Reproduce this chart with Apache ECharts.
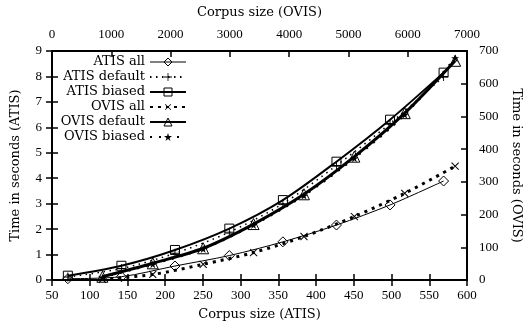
<!DOCTYPE html>
<html>
<head>
<meta charset="utf-8">
<script src="https://cdn.jsdelivr.net/npm/echarts@6/dist/echarts.min.js"></script>
<style>
  html, body { margin: 0; padding: 0; background: #fff; }
  #chart { width: 523px; height: 324px; }
</style>
</head>
<body>
<div id="chart"></div>
<script>
// ATIS corpus sizes (bottom axis) and times in seconds (left axis)
var atisSizes = [71, 142, 213, 285, 356, 427, 498, 569];
var atisAll = [0.05, 0.13, 0.55, 0.96, 1.5, 2.16, 2.95, 3.89];
var atisDefault = [0.12, 0.45, 1.05, 1.88, 3.0, 4.5, 6.15, 8.0];
var atisBiased = [0.17, 0.56, 1.18, 2.02, 3.14, 4.65, 6.3, 8.15];

// OVIS corpus sizes (top axis) and times in seconds (right axis)
var ovisSizes = [850, 1700, 2550, 3400, 4250, 5100, 5950, 6800];
var ovisAll = [2, 17, 48, 84, 133, 194, 265, 348];
var ovisDefault = [10, 51, 97, 171, 262, 377, 510, 670];
var ovisBiased = [8, 48, 95, 168, 258, 372, 505, 678];

var serif = "DejaVu Serif";
var tickFont = "Liberation Serif";

var plusPath = "path://M4.5,0h1v4.5h4.5v1h-4.5v4.5h-1v-4.5h-4.5v-1h4.5z";
var starPath = "path://M5,0L6.2,3.6L10,3.6L6.9,5.8L8.1,9.5L5,7.2L1.9,9.5L3.1,5.8L0,3.6L3.8,3.6Z";

function pairs(xs, ys) {
	return xs.map(function (x, i) { return [x, ys[i]]; });
}

var hollow = { color: "rgba(0,0,0,0)", borderColor: "#000", borderWidth: 1 };
var solid = { color: "#000", borderColor: "#000", borderWidth: 0 };

function labels(margin) {
	return { color: "#000", fontFamily: tickFont, fontSize: 13, margin: margin, formatter: function (v) { return String(v); } };
}

function axisBase(extra) {
	var base = {
		type: "value",
		splitLine: { show: false },
		axisLine: { show: true, onZero: false, lineStyle: { color: "#000", width: 2 } },
		axisTick: { show: true, inside: true, length: 6, lineStyle: { color: "#000", width: 1.5 } },
		axisLabel: labels(11),
		nameLocation: "middle",
		nameTextStyle: { color: "#000", fontFamily: serif, fontSize: 13 },
	};
	return Object.assign(base, extra);
}

var chart = echarts.init(document.getElementById("chart"), null, { renderer: "canvas" });

var options = {
	animation: false,
	backgroundColor: "#fff",
	grid: { left: 52, right: 56, top: 51, bottom: 44, outerBoundsMode: "none", containLabel: false },
	legend: {
		orient: "vertical",
		left: 60,
		top: 55,
		padding: 0,
		align: "right",
		itemWidth: 36,
		itemHeight: 10,
		itemGap: 1,
		textStyle: {
			color: "#000",
			fontFamily: serif,
			fontSize: 13,
			lineHeight: 14,
			width: 85,
		},
		data: [
			{ name: "ATIS all", itemStyle: hollow, lineStyle: { width: 1 } },
			{ name: "ATIS default", itemStyle: solid },
			{ name: "ATIS biased", itemStyle: hollow },
			{ name: "OVIS all", itemStyle: solid },
			{ name: "OVIS default", itemStyle: hollow },
			{ name: "OVIS biased", itemStyle: solid },
		],
	},
	xAxis: [
		axisBase({ position: "bottom", min: 50, max: 600, interval: 50, name: "Corpus size (ATIS)", nameGap: 28, axisLabel: labels(9) }),
		axisBase({ position: "top", min: 0, max: 7000, interval: 1000, name: "Corpus size (OVIS)", nameGap: 32, axisLabel: labels(10) }),
		// mirrored ATIS ticks along the top border
		axisBase({ position: "top", min: 50, max: 600, interval: 50, axisLine: { show: false }, axisLabel: { show: false } }),
	],
	yAxis: [
		axisBase({ position: "left", min: 0, max: 9, interval: 1, name: "Time in seconds (ATIS)", nameGap: 30, axisLabel: labels(10) }),
		axisBase({ position: "right", min: 0, max: 700, interval: 100, name: "Time in seconds (OVIS)", nameGap: 42, nameRotate: -90, axisLabel: labels(12) }),
		// mirrored ATIS ticks along the right border
		axisBase({ position: "right", min: 0, max: 9, interval: 1, axisLine: { show: false }, axisLabel: { show: false } }),
	],
	series: [
		{
			name: "ATIS all",
			type: "line",
			xAxisIndex: 0,
			yAxisIndex: 0,
			data: pairs(atisSizes, atisAll),
			smooth: 0.3,
			symbol: "diamond",
			symbolSize: 10,
			itemStyle: hollow,
			lineStyle: { color: "#000", width: 1 },
		},
		{
			name: "ATIS default",
			type: "line",
			xAxisIndex: 0,
			yAxisIndex: 0,
			data: pairs(atisSizes, atisDefault),
			smooth: 0.3,
			symbol: plusPath,
			symbolSize: 9,
			itemStyle: { color: "#000" },
			lineStyle: { color: "#000", width: 1.5, type: [1.5, 4.5] },
		},
		{
			name: "ATIS biased",
			type: "line",
			xAxisIndex: 0,
			yAxisIndex: 0,
			data: pairs(atisSizes, atisBiased),
			smooth: 0.3,
			symbol: "rect",
			symbolSize: 9,
			itemStyle: hollow,
			lineStyle: { color: "#000", width: 2 },
		},
		{
			name: "OVIS all",
			type: "line",
			xAxisIndex: 1,
			yAxisIndex: 1,
			data: pairs(ovisSizes, ovisAll),
			smooth: 0.3,
			symbol: plusPath,
			symbolRotate: 45,
			symbolSize: 10,
			itemStyle: { color: "#000" },
			lineStyle: { color: "#000", width: 3, type: [3, 5] },
		},
		{
			name: "OVIS default",
			type: "line",
			xAxisIndex: 1,
			yAxisIndex: 1,
			data: pairs(ovisSizes, ovisDefault),
			smooth: 0.3,
			symbol: "triangle",
			symbolSize: 11,
			itemStyle: hollow,
			lineStyle: { color: "#000", width: 3 },
		},
		{
			name: "OVIS biased",
			type: "line",
			xAxisIndex: 1,
			yAxisIndex: 1,
			data: pairs(ovisSizes, ovisBiased),
			smooth: 0.3,
			symbol: starPath,
			symbolSize: 8,
			itemStyle: { color: "#000" },
			lineStyle: { color: "#000", width: 2, type: [2, 7] },
		},
	],
};

chart.setOption(options);
</script>
</body>
</html>
